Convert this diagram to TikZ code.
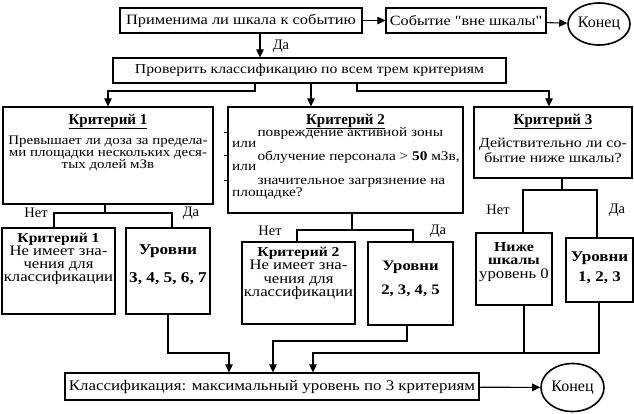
\documentclass[tikz,border=0pt]{standalone}
\usepackage{fontspec}
\usepackage{graphicx}
\setmainfont{Liberation Serif}
\usetikzlibrary{arrows.meta,shapes.geometric}
\newcommand\wid[1]{\scalebox{1.15}[1]{#1}}
\newcommand\stk[1]{\scalebox{1.15}[1]{\vtop{\lineskiplimit=-30pt\lineskip=0pt\halign{\hfil##\hfil\cr#1\crcr}}}}
\newcommand\stkl[1]{\scalebox{1.15}[1]{\vtop{\lineskiplimit=-30pt\lineskip=0pt\halign{##\hfil\cr#1\crcr}}}}
\newcommand\sq{\XeTeXglyph\XeTeXcharglyph"22 }
\begin{document}
\begin{tikzpicture}[x=1pt,y=-1pt,
  box/.style={draw, line width=1.2pt, inner sep=0pt},
  ln/.style={line width=1.1pt},
  arr/.style={line width=1.1pt, -{Triangle[length=8pt,width=7.5pt]}},
  txt/.style={inner sep=0pt, anchor=base},
  ttl/.style={inner sep=0pt, anchor=base, font=\fontsize{15}{15}\selectfont\bfseries},
  lab/.style={inner sep=0pt, font=\fontsize{14.5}{16}\selectfont},
  endn/.style={draw, ellipse, line width=1.6pt, inner sep=0pt, font=\fontsize{16}{17}\selectfont},
]
\useasboundingbox[fill=white] (0,0) rectangle (634,413);

% top row
\node[box,font=\fontsize{14.3}{16}\selectfont,minimum width=242,minimum height=25] (q1) at (241,20.5) {\wid{Применима ли шкала к событию}};
\node[box,font=\fontsize{14.1}{16}\selectfont,minimum width=160,minimum height=25] (out) at (466,20.5) {\wid{Событие \sq вне шкалы\sq}};
\node[endn,minimum width=62,minimum height=42] (e1) at (599,24) {Конец};
\draw[arr] (q1) -- (out);
\draw[arr] (out) -- (e1);

\node[box,font=\fontsize{13.7}{16}\selectfont,minimum width=393,minimum height=25] (chk) at (309.5,70.5) {\wid{Проверить классификацию по всем трем критериям}};
\coordinate (xa) at (260,0);
\draw[arr] (q1.south -| xa) -- (chk.north -| xa);
\node[lab] (da0) at (281,46) {Да};

% criteria boxes
\node[box,minimum width=210,minimum height=97] (c1) at (108,155.5) {};
\node[box,minimum width=235,minimum height=106] (c2) at (345.5,160) {};
\node[box,minimum width=158,minimum height=71] (c3) at (553,142.5) {};

\coordinate (yb) at (0,91);
\coordinate (x1) at (255,0);
\coordinate (x2) at (311,0);
\coordinate (x3) at (357,0);
\coordinate (x4) at (549,0);
\draw[arr] (chk.south -| x1) -- (x1 |- yb) -| (c1.north);
\draw[arr] (chk.south -| x2) -- (c2.north -| x2);
\draw[arr] (chk.south -| x3) -- (x3 |- yb) -| (c3.north -| x4);

% criterion 1 text
\node[ttl] (t1) at (108,124) {\underline{Критерий 1}};
\node[txt,font=\fontsize{13}{12}\selectfont] (b1) at (108,144) {\stk{Превышает ли доза за предела-\cr ми площадки нескольких деся-\cr тых долей мЗв}};

% criterion 2 text
\node[ttl] (t2) at (345.5,124) {\underline{Критерий 2}};
\node[txt,anchor=base west,font=\fontsize{13.3}{10.5}\selectfont] (b2) at (232,136.5)
 {\stkl{\hspace*{22pt}повреждение активной зоны\cr или\cr\noalign{\vskip2.5pt}
  \hspace*{22pt}облучение персонала > \textbf{50} мЗв,\cr или\cr\noalign{\vskip3.5pt}
  \hspace*{22pt}значительное загрязнение на\cr\noalign{\vskip1.5pt} площадке?}};
\coordinate (tk1) at (224,132);
\coordinate (tk2) at (224,155.5);
\coordinate (tk3) at (224,180.5);
\draw[line width=0.8pt] (tk1) -- (tk1 -| c2.west);
\draw[line width=0.8pt] (tk2) -- (tk2 -| c2.west);
\draw[line width=0.8pt] (tk3) -- (tk3 -| c2.west);

% criterion 3 text
\node[ttl] (t3) at (553,124) {\underline{Критерий 3}};
\node[txt,font=\fontsize{13.9}{15}\selectfont] (b3) at (553,147) {\stk{Действительно ли со-\cr бытие ниже шкалы?}};

% lower boxes
\node[box,minimum width=113,minimum height=86] (c1n) at (58.5,271) {};
\node[txt,font=\fontsize{14.5}{13}\selectfont] (c1nt) at (58.5,242) {\stk{{\fontsize{13.6}{13}\selectfont\bfseries Критерий 1}\cr Не имеет зна-\cr чения для\cr классификации}};
\node[box,minimum width=84,minimum height=86] (c1y) at (168,271) {};
\node[txt,font=\fontsize{15}{28}\selectfont\bfseries] (c1yt) at (168,254) {\stk{Уровни\cr 3, 4, 5, 6, 7}};

\node[box,minimum width=113,minimum height=82] (c2n) at (298.5,283) {};
\node[txt,font=\fontsize{14.5}{13.5}\selectfont] (c2nt) at (298.5,256) {\stk{{\fontsize{13.6}{13}\selectfont\bfseries Критерий 2}\cr Не имеет зна-\cr чения для\cr классификации}};
\node[box,minimum width=85,minimum height=83] (c2y) at (410.5,283.5) {};
\node[txt,font=\fontsize{14.5}{24}\selectfont\bfseries] (c2yt) at (410.5,270) {\stk{Уровни\cr 2, 3, 4, 5}};

\node[box,minimum width=76,minimum height=72] (c3n) at (514,269) {};
\node[txt,font=\fontsize{13.8}{13.5}\selectfont] (c3nt) at (514,251) {\stk{\bfseries Ниже\cr \bfseries шкалы\cr {\fontsize{14.6}{13}\selectfont уровень 0}}};
\node[box,minimum width=67,minimum height=64] (c3y) at (599.5,270) {};
\node[txt,font=\fontsize{14.8}{20}\selectfont\bfseries] (c3yt) at (599.5,261) {\stk{Уровни\cr 1, 2, 3}};

% branch connectors
\coordinate (k1) at (105,213);
\coordinate (k1l) at (54,213);
\coordinate (k1r) at (172,213);
\draw[ln] (c1.south -| k1) -- (k1);
\draw[ln] (c1n.north -| k1l) -- (k1l) -- (k1r) -- (c1y.north -| k1r);
\node[lab] (n1) at (36,213) {Нет};
\node[lab] (d1) at (191,213) {Да};

\coordinate (k2) at (352,230);
\coordinate (k2l) at (297,230);
\coordinate (k2r) at (413,230);
\draw[ln] (c2.south -| k2) -- (k2);
\draw[ln] (c2n.north -| k2l) -- (k2l) -- (k2r) -- (c2y.north -| k2r);
\node[lab] (n2) at (270,231) {Нет};
\node[lab] (d2) at (438,231) {Да};

\coordinate (k3) at (562,190);
\coordinate (k3l) at (523,190);
\coordinate (k3r) at (597,190);
\draw[ln] (c3.south -| k3) -- (k3);
\draw[ln] (c3n.north -| k3l) -- (k3l) -- (k3r) -- (c3y.north -| k3r);
\node[lab] (n3) at (498,210) {Нет};
\node[lab] (d3) at (617,210) {Да};

% final
\node[box,font=\fontsize{14.7}{16}\selectfont,minimum width=414,minimum height=27] (fin) at (272,386.5) {\wid{Классификация: максимальный уровень по 3 критериям}};
\node[endn,minimum width=63,minimum height=48] (e2) at (572.5,387.5) {Конец};
\draw[arr] (fin) -- (e2);

\coordinate (j1) at (168,353);
\coordinate (j1b) at (229,353);
\draw[arr] (c1y.south -| j1) -- (j1) -- (j1b) -- (fin.north -| j1b);
\coordinate (j2) at (407,341);
\coordinate (j2b) at (273,341);
\draw[arr] (c2y.south -| j2) -- (j2) -- (j2b) -- (fin.north -| j2b);
\coordinate (j3a) at (524,353);
\coordinate (j3b) at (599,353);
\coordinate (j3c) at (313,353);
\draw[ln] (c3n.south -| j3a) -- (j3a);
\draw[arr] (c3y.south -| j3b) -- (j3b) -- (j3c) -- (fin.north -| j3c);
\end{tikzpicture}
\end{document}
